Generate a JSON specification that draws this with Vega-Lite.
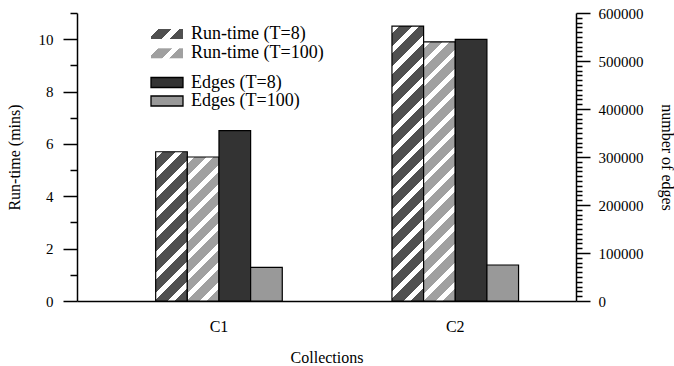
{
  "$schema": "https://vega.github.io/schema/vega-lite/v6.json",
  "width": 499,
  "height": 288,
  "autosize": "none",
  "padding": {"left": 77, "top": 13, "right": 98, "bottom": 65},
  "background": "white",
  "config": {
    "view": {"stroke": null},
    "font": "Liberation Serif",
    "axis": {
      "labelFont": "Liberation Serif",
      "titleFont": "Liberation Serif",
      "labelColor": "black",
      "titleColor": "black",
      "titleFontWeight": "normal",
      "domainColor": "black",
      "tickColor": "black",
      "domainWidth": 1.5,
      "tickWidth": 1.5,
      "grid": false,
      "labelFontSize": 15,
      "titleFontSize": 16
    },
    "legend": {
      "labelFont": "Liberation Serif",
      "labelFontSize": 18,
      "labelColor": "black",
      "symbolType": "M-3.2,-1H3.2V1H-3.2Z",
      "symbolSize": 100,
      "symbolStrokeColor": "black",
      "symbolStrokeWidth": 1.3,
      "symbolOpacity": 1
    }
  },
  "data": {
    "values": [
      {"collection": "C1", "series": "Run-time (T=8)", "metric": "runtime", "value": 5.7},
      {"collection": "C1", "series": "Run-time (T=100)", "metric": "runtime", "value": 5.5},
      {"collection": "C1", "series": "Edges (T=8)", "metric": "edges", "value": 355000},
      {"collection": "C1", "series": "Edges (T=100)", "metric": "edges", "value": 70000},
      {"collection": "C2", "series": "Run-time (T=8)", "metric": "runtime", "value": 10.5},
      {"collection": "C2", "series": "Run-time (T=100)", "metric": "runtime", "value": 9.9},
      {"collection": "C2", "series": "Edges (T=8)", "metric": "edges", "value": 545000},
      {"collection": "C2", "series": "Edges (T=100)", "metric": "edges", "value": 75000}
    ]
  },
  "encoding": {
    "x": {
      "field": "collection",
      "type": "nominal",
      "scale": {"domain": ["C1", "C2"], "paddingInner": 0.4642, "paddingOuter": 0.288, "align": 0.578},
      "axis": {
        "ticks": false,
        "labelAngle": 0,
        "labelFontSize": 16,
        "labelPadding": 17,
        "title": "Collections",
        "titlePadding": 15
      }
    },
    "xOffset": {
      "field": "series",
      "type": "nominal",
      "scale": {"domain": ["Run-time (T=8)", "Run-time (T=100)", "Edges (T=8)", "Edges (T=100)"], "paddingInner": 0, "paddingOuter": 0}
    },
    "stroke": {"value": "black"},
    "strokeWidth": {"value": 1.2}
  },
  "layer": [
    {
      "transform": [{"filter": "datum.series === 'Run-time (T=8)'"}],
      "mark": {"type": "bar"},
      "encoding": {
        "y": {
          "field": "value",
          "type": "quantitative",
          "scale": {"domain": [0, 11], "nice": false},
          "axis": {
            "orient": "left",
            "values": [0, 1, 2, 3, 4, 5, 6, 7, 8, 9, 10, 11],
            "tickSize": {"condition": {"test": "datum.value % 2 === 0", "value": 14}, "value": 7},
            "labelExpr": "datum.value % 2 === 0 ? datum.label : ''",
            "labelPadding": 10,
            "title": "Run-time (mins)",
            "titlePadding": 16
          }
        },
        "strokeDash": {
          "field": "series",
          "type": "nominal",
          "scale": {"domain": ["Run-time (T=8)"], "range": [[1, 0]]},
          "legend": {
            "title": null,
            "orient": "none",
            "legendX": 81,
            "legendY": 12,
            "labelOffset": 15,
            "symbolStrokeColor": "black",
            "symbolStrokeWidth": 1.3
          }
        },
        "fill": {
          "condition": [
            {"test": "datum.collection === 'C1'", "value": {"gradient": "linear", "x1": 0, "y1": 0, "x2": 0.246, "y2": 1.16, "stops": [
              {"offset": 0, "color": "white"}, {"offset": 0.0389, "color": "white"}, {"offset": 0.0389, "color": "#505050"}, {"offset": 0.1111, "color": "#505050"},
              {"offset": 0.1111, "color": "white"}, {"offset": 0.15, "color": "white"}, {"offset": 0.15, "color": "#505050"}, {"offset": 0.2222, "color": "#505050"},
              {"offset": 0.2222, "color": "white"}, {"offset": 0.2611, "color": "white"}, {"offset": 0.2611, "color": "#505050"}, {"offset": 0.3333, "color": "#505050"},
              {"offset": 0.3333, "color": "white"}, {"offset": 0.3722, "color": "white"}, {"offset": 0.3722, "color": "#505050"}, {"offset": 0.4444, "color": "#505050"},
              {"offset": 0.4444, "color": "white"}, {"offset": 0.4833, "color": "white"}, {"offset": 0.4833, "color": "#505050"}, {"offset": 0.5556, "color": "#505050"},
              {"offset": 0.5556, "color": "white"}, {"offset": 0.5944, "color": "white"}, {"offset": 0.5944, "color": "#505050"}, {"offset": 0.6667, "color": "#505050"},
              {"offset": 0.6667, "color": "white"}, {"offset": 0.7056, "color": "white"}, {"offset": 0.7056, "color": "#505050"}, {"offset": 0.7778, "color": "#505050"},
              {"offset": 0.7778, "color": "white"}, {"offset": 0.8167, "color": "white"}, {"offset": 0.8167, "color": "#505050"}, {"offset": 0.8889, "color": "#505050"},
              {"offset": 0.8889, "color": "white"}, {"offset": 0.9278, "color": "white"}, {"offset": 0.9278, "color": "#505050"}, {"offset": 1, "color": "#505050"}]}},
            {"test": "datum.collection === 'C2'", "value": {"gradient": "linear", "x1": 0, "y1": 0, "x2": 0.1267, "y2": 1.1006, "stops": [
              {"offset": 0, "color": "white"}, {"offset": 0.0233, "color": "white"}, {"offset": 0.0233, "color": "#505050"}, {"offset": 0.0667, "color": "#505050"},
              {"offset": 0.0667, "color": "white"}, {"offset": 0.09, "color": "white"}, {"offset": 0.09, "color": "#505050"}, {"offset": 0.1333, "color": "#505050"},
              {"offset": 0.1333, "color": "white"}, {"offset": 0.1567, "color": "white"}, {"offset": 0.1567, "color": "#505050"}, {"offset": 0.2, "color": "#505050"},
              {"offset": 0.2, "color": "white"}, {"offset": 0.2233, "color": "white"}, {"offset": 0.2233, "color": "#505050"}, {"offset": 0.2667, "color": "#505050"},
              {"offset": 0.2667, "color": "white"}, {"offset": 0.29, "color": "white"}, {"offset": 0.29, "color": "#505050"}, {"offset": 0.3333, "color": "#505050"},
              {"offset": 0.3333, "color": "white"}, {"offset": 0.3567, "color": "white"}, {"offset": 0.3567, "color": "#505050"}, {"offset": 0.4, "color": "#505050"},
              {"offset": 0.4, "color": "white"}, {"offset": 0.4233, "color": "white"}, {"offset": 0.4233, "color": "#505050"}, {"offset": 0.4667, "color": "#505050"},
              {"offset": 0.4667, "color": "white"}, {"offset": 0.49, "color": "white"}, {"offset": 0.49, "color": "#505050"}, {"offset": 0.5333, "color": "#505050"},
              {"offset": 0.5333, "color": "white"}, {"offset": 0.5567, "color": "white"}, {"offset": 0.5567, "color": "#505050"}, {"offset": 0.6, "color": "#505050"},
              {"offset": 0.6, "color": "white"}, {"offset": 0.6233, "color": "white"}, {"offset": 0.6233, "color": "#505050"}, {"offset": 0.6667, "color": "#505050"},
              {"offset": 0.6667, "color": "white"}, {"offset": 0.69, "color": "white"}, {"offset": 0.69, "color": "#505050"}, {"offset": 0.7333, "color": "#505050"},
              {"offset": 0.7333, "color": "white"}, {"offset": 0.7567, "color": "white"}, {"offset": 0.7567, "color": "#505050"}, {"offset": 0.8, "color": "#505050"},
              {"offset": 0.8, "color": "white"}, {"offset": 0.8233, "color": "white"}, {"offset": 0.8233, "color": "#505050"}, {"offset": 0.8667, "color": "#505050"},
              {"offset": 0.8667, "color": "white"}, {"offset": 0.89, "color": "white"}, {"offset": 0.89, "color": "#505050"}, {"offset": 0.9333, "color": "#505050"},
              {"offset": 0.9333, "color": "white"}, {"offset": 0.9567, "color": "white"}, {"offset": 0.9567, "color": "#505050"}, {"offset": 1, "color": "#505050"}]}}
          ],
          "value": {"gradient": "linear", "x1": 0, "y1": 0, "x2": 1.1957, "y2": 0.3737, "stops": [
            {"offset": 0, "color": "white"}, {"offset": 0.175, "color": "white"}, {"offset": 0.175, "color": "#505050"}, {"offset": 0.5, "color": "#505050"},
            {"offset": 0.5, "color": "white"}, {"offset": 0.675, "color": "white"}, {"offset": 0.675, "color": "#505050"}, {"offset": 1, "color": "#505050"}]}
        }
      }
    },
    {
      "transform": [{"filter": "datum.series === 'Run-time (T=100)'"}],
      "mark": {"type": "bar"},
      "encoding": {
        "y": {
          "field": "value",
          "type": "quantitative",
          "scale": {"domain": [0, 11], "nice": false},
          "axis": null
        },
        "strokeDash": {
          "field": "series",
          "type": "nominal",
          "scale": {"domain": ["Run-time (T=100)"], "range": [[1, 0]]},
          "legend": {
            "title": null,
            "orient": "none",
            "legendX": 81,
            "legendY": 31.3,
            "labelOffset": 15,
            "symbolStrokeColor": "black",
            "symbolStrokeWidth": 1.3
          }
        },
        "fill": {
          "condition": [
            {"test": "datum.collection === 'C1'", "value": {"gradient": "linear", "x1": 0, "y1": 0, "x2": 0.2557, "y2": 1.1636, "stops": [
              {"offset": 0, "color": "white"}, {"offset": 0.0389, "color": "white"}, {"offset": 0.0389, "color": "#a0a0a0"}, {"offset": 0.1111, "color": "#a0a0a0"},
              {"offset": 0.1111, "color": "white"}, {"offset": 0.15, "color": "white"}, {"offset": 0.15, "color": "#a0a0a0"}, {"offset": 0.2222, "color": "#a0a0a0"},
              {"offset": 0.2222, "color": "white"}, {"offset": 0.2611, "color": "white"}, {"offset": 0.2611, "color": "#a0a0a0"}, {"offset": 0.3333, "color": "#a0a0a0"},
              {"offset": 0.3333, "color": "white"}, {"offset": 0.3722, "color": "white"}, {"offset": 0.3722, "color": "#a0a0a0"}, {"offset": 0.4444, "color": "#a0a0a0"},
              {"offset": 0.4444, "color": "white"}, {"offset": 0.4833, "color": "white"}, {"offset": 0.4833, "color": "#a0a0a0"}, {"offset": 0.5556, "color": "#a0a0a0"},
              {"offset": 0.5556, "color": "white"}, {"offset": 0.5944, "color": "white"}, {"offset": 0.5944, "color": "#a0a0a0"}, {"offset": 0.6667, "color": "#a0a0a0"},
              {"offset": 0.6667, "color": "white"}, {"offset": 0.7056, "color": "white"}, {"offset": 0.7056, "color": "#a0a0a0"}, {"offset": 0.7778, "color": "#a0a0a0"},
              {"offset": 0.7778, "color": "white"}, {"offset": 0.8167, "color": "white"}, {"offset": 0.8167, "color": "#a0a0a0"}, {"offset": 0.8889, "color": "#a0a0a0"},
              {"offset": 0.8889, "color": "white"}, {"offset": 0.9278, "color": "white"}, {"offset": 0.9278, "color": "#a0a0a0"}, {"offset": 1, "color": "#a0a0a0"}]}},
            {"test": "datum.collection === 'C2'", "value": {"gradient": "linear", "x1": 0, "y1": 0, "x2": 0.135, "y2": 1.1056, "stops": [
              {"offset": 0, "color": "white"}, {"offset": 0.0233, "color": "white"}, {"offset": 0.0233, "color": "#a0a0a0"}, {"offset": 0.0667, "color": "#a0a0a0"},
              {"offset": 0.0667, "color": "white"}, {"offset": 0.09, "color": "white"}, {"offset": 0.09, "color": "#a0a0a0"}, {"offset": 0.1333, "color": "#a0a0a0"},
              {"offset": 0.1333, "color": "white"}, {"offset": 0.1567, "color": "white"}, {"offset": 0.1567, "color": "#a0a0a0"}, {"offset": 0.2, "color": "#a0a0a0"},
              {"offset": 0.2, "color": "white"}, {"offset": 0.2233, "color": "white"}, {"offset": 0.2233, "color": "#a0a0a0"}, {"offset": 0.2667, "color": "#a0a0a0"},
              {"offset": 0.2667, "color": "white"}, {"offset": 0.29, "color": "white"}, {"offset": 0.29, "color": "#a0a0a0"}, {"offset": 0.3333, "color": "#a0a0a0"},
              {"offset": 0.3333, "color": "white"}, {"offset": 0.3567, "color": "white"}, {"offset": 0.3567, "color": "#a0a0a0"}, {"offset": 0.4, "color": "#a0a0a0"},
              {"offset": 0.4, "color": "white"}, {"offset": 0.4233, "color": "white"}, {"offset": 0.4233, "color": "#a0a0a0"}, {"offset": 0.4667, "color": "#a0a0a0"},
              {"offset": 0.4667, "color": "white"}, {"offset": 0.49, "color": "white"}, {"offset": 0.49, "color": "#a0a0a0"}, {"offset": 0.5333, "color": "#a0a0a0"},
              {"offset": 0.5333, "color": "white"}, {"offset": 0.5567, "color": "white"}, {"offset": 0.5567, "color": "#a0a0a0"}, {"offset": 0.6, "color": "#a0a0a0"},
              {"offset": 0.6, "color": "white"}, {"offset": 0.6233, "color": "white"}, {"offset": 0.6233, "color": "#a0a0a0"}, {"offset": 0.6667, "color": "#a0a0a0"},
              {"offset": 0.6667, "color": "white"}, {"offset": 0.69, "color": "white"}, {"offset": 0.69, "color": "#a0a0a0"}, {"offset": 0.7333, "color": "#a0a0a0"},
              {"offset": 0.7333, "color": "white"}, {"offset": 0.7567, "color": "white"}, {"offset": 0.7567, "color": "#a0a0a0"}, {"offset": 0.8, "color": "#a0a0a0"},
              {"offset": 0.8, "color": "white"}, {"offset": 0.8233, "color": "white"}, {"offset": 0.8233, "color": "#a0a0a0"}, {"offset": 0.8667, "color": "#a0a0a0"},
              {"offset": 0.8667, "color": "white"}, {"offset": 0.89, "color": "white"}, {"offset": 0.89, "color": "#a0a0a0"}, {"offset": 0.9333, "color": "#a0a0a0"},
              {"offset": 0.9333, "color": "white"}, {"offset": 0.9567, "color": "white"}, {"offset": 0.9567, "color": "#a0a0a0"}, {"offset": 1, "color": "#a0a0a0"}]}}
          ],
          "value": {"gradient": "linear", "x1": 0, "y1": 0, "x2": 1.1957, "y2": 0.3737, "stops": [
            {"offset": 0, "color": "white"}, {"offset": 0.175, "color": "white"}, {"offset": 0.175, "color": "#a0a0a0"}, {"offset": 0.5, "color": "#a0a0a0"},
            {"offset": 0.5, "color": "white"}, {"offset": 0.675, "color": "white"}, {"offset": 0.675, "color": "#a0a0a0"}, {"offset": 1, "color": "#a0a0a0"}]}
        }
      }
    },
    {
      "transform": [{"filter": "datum.metric === 'edges'"}],
      "mark": {"type": "bar"},
      "encoding": {
        "y": {
          "field": "value",
          "type": "quantitative",
          "scale": {"domain": [0, 600000], "nice": false},
          "axis": {
            "orient": "right",
            "values": [0, 10000, 20000, 30000, 40000, 50000, 60000, 70000, 80000, 90000, 100000, 110000, 120000, 130000, 140000, 150000, 160000, 170000, 180000, 190000, 200000, 210000, 220000, 230000, 240000, 250000, 260000, 270000, 280000, 290000, 300000, 310000, 320000, 330000, 340000, 350000, 360000, 370000, 380000, 390000, 400000, 410000, 420000, 430000, 440000, 450000, 460000, 470000, 480000, 490000, 500000, 510000, 520000, 530000, 540000, 550000, 560000, 570000, 580000, 590000, 600000],
            "format": "d",
            "tickSize": {"condition": {"test": "datum.value % 100000 === 0", "value": 14}, "value": 6},
            "labelExpr": "datum.value % 100000 === 0 ? datum.label : ''",
            "labelPadding": 8,
            "title": "number of edges",
            "titlePadding": 15
          }
        },
        "fill": {
          "field": "series",
          "type": "nominal",
          "scale": {"domain": ["Edges (T=8)", "Edges (T=100)"], "range": ["#333333", "#999999"]},
          "legend": {
            "title": null,
            "orient": "none",
            "legendX": 81,
            "legendY": 60.5,
            "rowPadding": 0.5,
            "labelOffset": 15,
            "symbolStrokeColor": "black",
            "symbolStrokeWidth": 1.3
          }
        }
      }
    }
  ],
  "resolve": {"scale": {"y": "independent", "fill": "independent", "strokeDash": "independent"}}
}
